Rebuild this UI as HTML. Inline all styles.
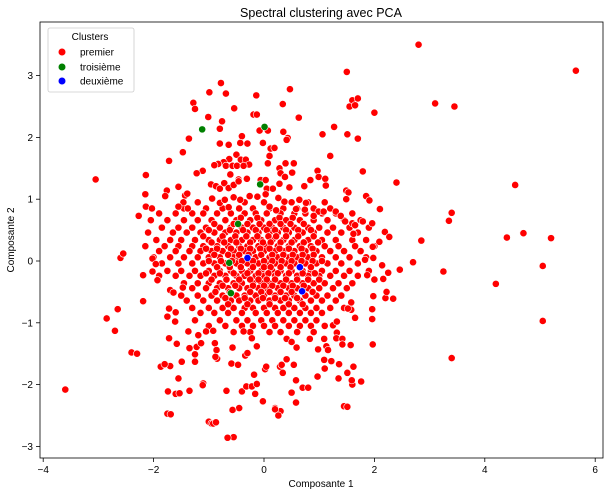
<!DOCTYPE html>
<html><head><meta charset="utf-8"><style>
body{margin:0;background:#fff}
svg{display:block;font-family:"Liberation Sans",sans-serif}
</style></head><body>
<svg id="chart" width="608" height="496">
<rect x="0" y="0" width="608" height="496" fill="#fff"/>
<g id="marks"></g>
<rect x="40" y="22" width="563" height="436" fill="none" stroke="#000" stroke-width="0.8"/>
<g id="xticks"></g>
<g id="yticks"></g>
<text x="321" y="17" text-anchor="middle" font-size="12.5">Spectral clustering avec PCA</text>
<text x="321" y="487" text-anchor="middle" font-size="10">Composante 1</text>
<text x="14" y="240" text-anchor="middle" font-size="10" transform="rotate(-90 14 240)">Composante 2</text>
<g>
<rect x="48" y="28" width="86" height="64" rx="2" fill="#fff" fill-opacity="0.85" stroke="#ccc" stroke-width="0.8"/>
<text x="90" y="40" text-anchor="middle" font-size="10">Clusters</text>
<g><circle cx="62" cy="52" r="3.5" fill="red"/><text x="80" y="55.5" font-size="10">premier</text></g>
<g><circle cx="62" cy="67" r="3.5" fill="green"/><text x="80" y="70.5" font-size="10">troisième</text></g>
<g><circle cx="62" cy="81" r="3.5" fill="blue"/><text x="80" y="84.5" font-size="10">deuxième</text></g>
</g>
</svg>
<script>
const xTickValues = [-4,-2,0,2,4,6];
const yTickValues = [-3,-2,-1,0,1,2,3];
const premierPoints = [
[2.8,3.5],[5.65,3.08],[1.5,3.06],[3.1,2.55],[3.45,2.5],[1.6,2.6],[1.55,2.5],[-3.05,1.32],[2.4,1.27],[4.55,1.23],[3.4,0.78],[3.35,0.65],[2.85,0.33],[4.7,0.45],[4.4,0.38],[5.2,0.37],[2.7,-0.02],[3.25,-0.17],[5.05,-0.08],[4.2,-0.37],[5.05,-0.97],[3.4,-1.57],[-3.6,-2.08],[2.2,-0.6],[-2.85,-0.93],[-2.7,-1.13],[-2.65,-0.78],[-2.6,0.05],[-2.55,0.12],[-2.4,-1.48],[-2.3,-1.5],[-1.75,-2.47],[-1.0,-2.6],[-0.95,-2.63],[-0.55,-2.85],[0.3,-2.43],[0.2,-2.38],[1.45,-2.35],[-0.45,-2.38],[1.6,-2.0],[-1.35,-2.1],[-1.1,-1.98],[-1.6,-2.15],[-1.7,-1.7],[0.7,-2.05],[0.8,-2.05],[1.35,-1.9],
[-0.78,2.88],[-0.99,2.73],[-0.69,2.71],[-0.14,2.68],[0.47,2.78],[-1.28,2.56],[-1.25,2.46],[-0.54,2.47],[0.34,2.54],[1.7,2.63],[1.65,2.52],[2.0,2.4],[-1.01,2.33],[-0.19,2.37],[-0.13,2.37],[0.63,2.32],[-0.76,2.26],[-0.8,2.14],[-0.08,2.11],[0.07,2.11],[0.35,2.09],[0.43,1.99],[0.41,1.96],[1.27,2.17],[1.06,2.05],[1.51,2.05],[1.7,1.98],[-0.4,2.02],[-1.36,1.98],[-0.8,1.9],[-0.64,1.88],[-0.43,1.91],[-0.3,1.9],[-0.02,1.91],[0.12,1.82],[0.19,1.83],[-1.47,1.76],[1.2,1.7],[-0.5,1.72],[-0.63,1.65],[-0.42,1.64],[-0.33,1.64],[-0.27,1.56],[-0.73,1.6],[-0.83,1.57],[-0.9,1.55],[-1.72,1.62],[0.1,1.7],[0.07,1.58],[0.39,1.58],[0.54,1.58],[0.28,1.5],[0.97,1.46],[0.99,1.36],[1.11,1.33],[1.79,1.45],[-2.14,1.39],[-1.11,1.46],[-1.22,1.42],[-0.69,1.54],[-0.57,1.54],[-0.49,1.54],[-0.37,1.54],[-0.61,1.4],[-0.46,1.32],[-0.31,1.33],[-0.06,1.31],[0.3,1.42],[0.38,1.36],[0.51,1.43],[0.84,1.31],[0.73,1.21],[1.12,1.22],[1.49,1.14],[1.53,1.11],[1.49,1.0],[1.85,1.05],[1.91,0.98],[2.1,0.84],[-2.15,1.08],[-2.14,0.88],[-2.03,0.85],[-2.27,0.73],[-1.76,1.14],[-1.79,1.05],[-1.55,1.2],[-1.43,1.06],[-1.39,1.09],[-1.46,0.95],[-1.55,0.88],[-1.38,0.85],[-0.96,1.24],[-0.87,1.21],[-0.8,1.17],[-0.72,1.26],[-0.64,1.18],[-0.55,1.23],[-0.46,1.29],[-0.94,1.01],[-0.8,0.94],[-0.71,0.99],[-0.64,0.87],[-0.55,1.03],[-0.43,0.99],[-0.26,1.05],[-0.12,1.04],[0.03,1.31],[0.05,1.17],[0.03,1.08],[0.16,1.17],[0.28,1.25],[0.37,0.96],[0.26,1.02],[0.1,0.88],[0.22,0.82],[0.46,1.19],[0.64,0.99],[0.76,0.94],[0.58,0.84],[0.74,0.83],[0.9,0.85],[0.99,0.8],[1.08,0.8],[0.9,0.73],[1.3,0.8],[1.39,0.73],[1.47,0.64],[1.6,0.61],[1.79,0.64],[1.96,0.61],[1.62,0.44],[1.65,0.58],[2.19,0.47],[2.27,0.39],[2.09,0.31],[1.97,0.23],
[-2.19,-0.23],[-2.02,0.04],[-1.96,-0.05],[-2.02,-0.17],[-1.93,-0.31],[-2.19,-0.65],[-1.7,-0.47],[-1.64,-0.51],[-1.47,-0.43],[-1.72,-0.77],[-1.75,-0.9],[-1.6,-0.83],[-1.61,-0.98],[-1.72,-1.25],[-1.58,-1.34],[-1.37,-1.14],[-1.35,-1.41],[-1.19,-1.2],[-1.22,-1.39],[-1.14,-1.33],[-1.05,-1.14],[-0.92,-1.13],[-0.89,-1.33],[-0.86,-1.44],[-0.85,-1.58],[-0.88,-1.55],[-1.25,-1.51],[-1.25,-1.63],[-1.49,-1.63],[-1.87,-1.71],[-1.8,-1.67],[-1.55,-1.9],[-1.74,-2.11],[-1.53,-2.14],[-1.11,-2.01],[-1.69,-2.48],[-0.92,-2.63],[-0.87,-2.61],[-0.66,-2.86],[-0.57,-2.41],[-0.68,-2.1],[-0.59,-1.66],[-0.47,-1.68],[-0.57,-1.4],[-0.4,-2.11],[-0.32,-2.03],[-0.22,-2.03],[-0.13,-1.99],[-0.16,-2.15],[-0.18,-1.84],[-0.34,-1.53],[-0.3,-1.49],[-0.22,-1.25],[-0.13,-1.38],[-0.37,-1.14],[-0.02,-2.27],[0.2,-2.4],[0.26,-2.5],[0.02,-1.75],[0.04,-1.71],[0.29,-1.71],[0.32,-1.68],[0.34,-1.81],[0.41,-1.59],[0.54,-1.68],[0.58,-1.93],[0.58,-2.29],[0.5,-2.13],[0.41,-1.26],[0.5,-1.31],[0.59,-1.4],[0.83,-1.26],[0.98,-1.43],[1.09,-1.26],[1.13,-1.38],[1.16,-1.44],[1.09,-1.6],[1.1,-1.74],[1.22,-1.62],[1.36,-1.67],[1.51,-1.81],[1.59,-1.93],[1.76,-1.95],[1.62,-1.71],[0.97,-1.87],[1.51,-2.36],[1.97,-1.35],[1.32,-1.16],[1.31,-1.25],[1.42,-1.26],[1.42,-1.35],[1.57,-1.36],[1.25,-1.04],[1.32,-0.98],[1.65,-0.92],[1.58,-0.79],[1.58,-0.67],[1.52,-0.77],[1.96,-0.94],[1.96,-0.78],[1.98,-0.57],[2.22,-0.5],[2.34,-0.61],[2.0,-0.3],[2.16,-0.29],[1.87,-0.23],[2.14,-0.07],[2.25,-0.19],[2.46,-0.14],[1.83,0.02],[1.98,0.05]
];
const coreRows = [
[0.95,[-1.2,-0.35,0.0,0.5,0.8,1.1]],
[0.85,[-1.45,-1.05,-0.75,-0.45,-0.2,0.1,0.35,0.6,0.9,1.2]],
[0.77,[-1.9,-1.6,-1.3,-1.1,-0.85,-0.6,-0.35,-0.15,0.05,0.3,0.55,0.75,1.05,1.3,1.6]],
[0.66,[-2.05,-1.75,-1.45,-1.2,-0.95,-0.7,-0.5,-0.25,-0.05,0.2,0.4,0.65,0.9,1.15,1.45,1.75]],
[0.54,[-1.85,-1.55,-1.3,-1.05,-0.8,-0.6,-0.4,-0.2,0.0,0.15,0.35,0.55,0.8,1.0,1.25,1.55,1.9]],
[0.46,[-2.1,-1.65,-1.4,-1.15,-0.9,-0.7,-0.5,-0.3,-0.1,0.1,0.25,0.45,0.7,0.9,1.15,1.4,1.7]],
[0.34,[-1.95,-1.7,-1.5,-1.25,-1.0,-0.8,-0.6,-0.4,-0.2,-0.05,0.15,0.35,0.55,0.8,1.05,1.3,1.6,1.85]],
[0.24,[-2.15,-1.8,-1.55,-1.3,-1.1,-0.85,-0.65,-0.45,-0.3,-0.1,0.05,0.25,0.45,0.65,0.85,1.1,1.35,1.65,2.0]],
[0.16,[-1.9,-1.6,-1.35,-1.15,-0.95,-0.75,-0.55,-0.35,-0.2,0.0,0.2,0.35,0.55,0.75,0.95,1.2,1.45,1.75]],
[0.06,[-2.0,-1.7,-1.45,-1.2,-1.0,-0.8,-0.55,-0.45,-0.15,0.1,0.25,0.45,0.6,0.8,1.05,1.3,1.55,1.85]],
[-0.04,[-1.85,-1.55,-1.3,-1.1,-0.9,-0.7,-0.5,-0.3,-0.1,0.05,0.2,0.4,0.55,0.75,0.95,1.15,1.4,1.7]],
[-0.16,[-1.75,-1.5,-1.25,-1.0,-0.8,-0.6,-0.4,-0.25,-0.05,0.15,0.3,0.5,0.7,0.85,1.05,1.3,1.55,1.9]],
[-0.24,[-1.9,-1.6,-1.35,-1.15,-0.9,-0.7,-0.5,-0.35,-0.15,0.0,0.2,0.4,0.6,0.8,1.0,1.2,1.45,1.7]],
[-0.36,[-1.45,-1.2,-1.0,-0.8,-0.55,-0.4,-0.2,-0.05,0.1,0.3,0.5,0.7,0.9,1.1,1.35,1.6]],
[-0.44,[-1.3,-1.05,-0.85,-0.65,-0.45,-0.3,-0.1,0.05,0.25,0.45,0.6,0.8,1.0,1.25,1.5]],
[-0.56,[-1.5,-1.2,-0.95,-0.75,-0.5,-0.35,-0.15,0.0,0.2,0.4,0.55,0.75,0.95,1.15,1.4]],
[-0.64,[-1.4,-1.1,-0.85,-0.6,-0.45,-0.25,-0.1,0.1,0.3,0.45,0.65,0.85,1.05,1.3]],
[-0.76,[-1.3,-1.0,-0.75,-0.55,-0.35,-0.2,0.0,0.2,0.35,0.55,0.75,0.95,1.2,1.45]],
[-0.84,[-1.15,-0.9,-0.65,-0.4,-0.15,0.05,0.25,0.45,0.65,0.85,1.05]],
[-0.96,[-1.25,-0.8,-0.5,-0.3,-0.05,0.15,0.35,0.55,0.75,0.95]],
[-1.05,[-1.0,-0.7,-0.4,-0.2,0.0,0.2,0.45,0.65,0.85,1.1]],
[-1.15,[-0.55,-0.25,0.1,0.3,0.6,0.9]]
];
const denseRows = [
[0.7,[-0.42,-0.12,0.28,0.52]],
[0.6,[-0.9,-0.55,-0.3,-0.08,0.1,0.3,0.48,0.72]],
[0.5,[-1.0,-0.62,-0.38,-0.15,0.05,0.2,0.4,0.62,0.85]],
[0.4,[-1.1,-0.75,-0.52,-0.32,-0.12,0.08,0.22,0.4,0.62,0.9]],
[0.3,[-0.95,-0.72,-0.5,-0.25,-0.02,0.12,0.3,0.5,0.72,0.98]],
[0.2,[-1.05,-0.85,-0.6,-0.42,-0.25,-0.07,0.1,0.28,0.45,0.68,0.88]],
[0.1,[-0.9,-0.65,-0.45,-0.28,-0.05,0.15,0.35,0.52,0.7,0.9]],
[0.0,[-1.0,-0.78,-0.58,-0.4,-0.2,0.0,0.15,0.32,0.5,0.68,0.88,1.05]],
[-0.1,[-0.85,-0.62,-0.42,-0.2,0.0,0.12,0.3,0.48,0.65,0.85]],
[-0.2,[-1.05,-0.8,-0.55,-0.3,-0.1,0.08,0.25,0.45,0.7,0.92]],
[-0.3,[-0.95,-0.68,-0.45,-0.25,-0.1,0.05,0.2,0.4,0.6,0.8,1.0]],
[-0.4,[-0.75,-0.52,-0.2,0.0,0.15,0.35,0.52,0.72]],
[-0.5,[-0.88,-0.62,-0.25,-0.05,0.1,0.3,0.5,0.88]],
[-0.6,[-0.7,-0.35,-0.02,0.2,0.38,0.6]],
[-0.7,[-0.65,-0.3,0.1,0.45,0.7]]
];
const troisiemePoints = [[-1.12,2.13],[0.01,2.17],[-0.07,1.24],[-0.47,0.6],[-0.63,-0.03],[-0.6,-0.52]];
const deuxiemePoints = [[-0.3,0.05],[0.65,-0.1],[0.69,-0.49]];

const NS="http://www.w3.org/2000/svg";
function sx(v){return 264+v*55.2;}
function sy(v){return 261-v*61.8;}
const marks=document.getElementById('marks');
function dot(x,y,color,name){
  const c=document.createElementNS(NS,'circle');
  c.setAttribute('cx',sx(x));c.setAttribute('cy',sy(y));c.setAttribute('r',3.6);
  c.setAttribute('fill',color);c.setAttribute('stroke','#fff');c.setAttribute('stroke-width',0.6);
  
  
  marks.appendChild(c);
}
coreRows.forEach(r=>r[1].forEach(x=>dot(x,r[0],'red','point-premier')));
denseRows.forEach(r=>r[1].forEach(x=>dot(x,r[0],'red','point-premier')));
premierPoints.forEach(p=>dot(p[0],p[1],'red','point-premier'));
troisiemePoints.forEach(p=>dot(p[0],p[1],'green','point-troisieme'));
deuxiemePoints.forEach(p=>dot(p[0],p[1],'blue','point-deuxieme'));

const xt=document.getElementById('xticks');
xTickValues.forEach(v=>{
  const g=document.createElementNS(NS,'g');
  
  
  g.innerHTML=`<line x1="${sx(v)}" x2="${sx(v)}" y1="458" y2="462" stroke="#000" stroke-width="0.8"/><text x="${sx(v)}" y="473" text-anchor="middle" font-size="10">${v<0?'\u2212'+(-v):v}</text>`;
  xt.appendChild(g);
});
const yt=document.getElementById('yticks');
yTickValues.forEach(v=>{
  const g=document.createElementNS(NS,'g');
  
  
  g.innerHTML=`<line x1="36" x2="40" y1="${sy(v)}" y2="${sy(v)}" stroke="#000" stroke-width="0.8"/><text x="33" y="${sy(v)+3.5}" text-anchor="end" font-size="10">${v<0?'\u2212'+(-v):v}</text>`;
  yt.appendChild(g);
});
</script>
</body></html>
